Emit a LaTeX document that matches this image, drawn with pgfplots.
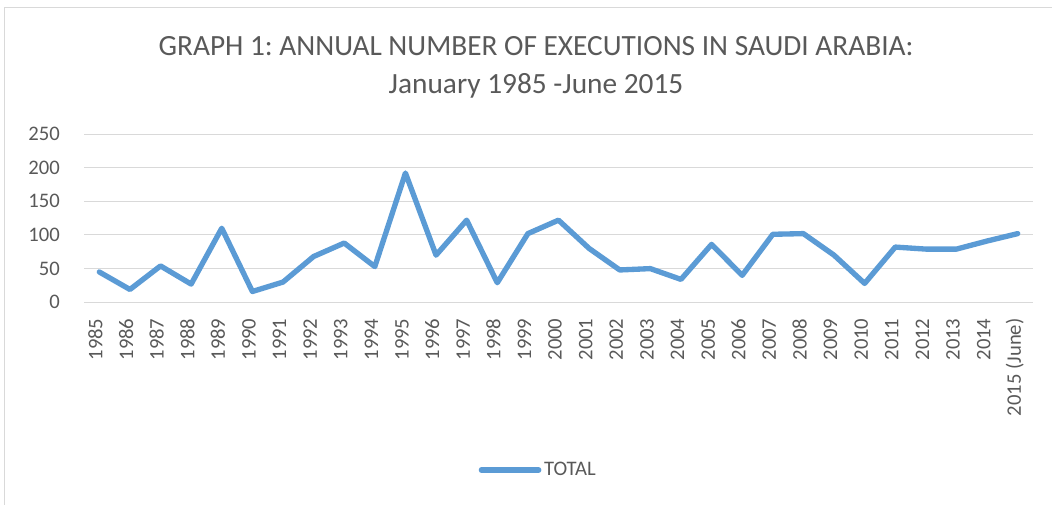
\documentclass[border=0pt]{standalone}
\usepackage{pgfplots}
\pgfplotsset{compat=1.18}
\usepackage{fontspec}
\setmainfont{Carlito}
\frenchspacing
\definecolor{serieblue}{HTML}{5B9BD5}
\definecolor{txt}{HTML}{595959}
\definecolor{gridc}{HTML}{D9D9D9}
\begin{document}
\begin{tikzpicture}[x=1pt,y=1pt]
\path[use as bounding box] (0,0) rectangle (789,378);
\begin{scope}
\clip (0,0) rectangle (789,378);
\draw[gridc, line width=0.75pt] (3,-5) rectangle (800,372);
\end{scope}
\begin{axis}[
  at={(63pt,151.3pt)}, anchor=south west,
  scale only axis, width=711.75pt, height=126.2pt,
  xmin=-0.5, xmax=30.5, ymin=0, ymax=250,
  ytick={0,50,100,150,200,250},
  xtick={0,...,30},
  xticklabels={1985,1986,1987,1988,1989,1990,1991,1992,1993,1994,1995,1996,1997,1998,1999,2000,2001,2002,2003,2004,2005,2006,2007,2008,2009,2010,2011,2012,2013,2014,2015 (June)},
  axis line style={draw=none},
  major tick length=0pt,
  ymajorgrids, grid style={gridc, line width=0.75pt},
  /pgf/number format/assume math mode=true,
  ticklabel style={font=\fontsize{15.5}{18}\selectfont, text=txt, inner sep=0pt},
  yticklabel style={anchor=east},
  yticklabel shift=18pt,
  xticklabel style={rotate=90, anchor=mid east},
  xticklabel shift=12pt,
  legend style={at={(0.479,-0.997)}, anchor=center, draw=none, fill=none,
    font=\fontsize{15.5}{18}\selectfont, text=txt, inner sep=0pt},
  legend image code/.code={\draw[#1, line width=4pt] (0,0) -- (43pt,0);},
]
\addplot[serieblue, line width=4pt, line join=round, line cap=round] coordinates {
(0,45) (1,19) (2,54) (3,27) (4,110) (5,16) (6,30) (7,68) (8,88) (9,53)
(10,192) (11,70) (12,122) (13,29) (14,102) (15,122) (16,80) (17,48) (18,50) (19,34)
(20,86) (21,40) (22,101) (23,102) (24,70) (25,28) (26,82) (27,79) (28,79) (29,91) (30,102)
};
\addlegendentry{TOTAL}
\end{axis}
\node[text=txt, align=center, font=\fontsize{22}{28.5}\selectfont] at (402,327.5)
  {GRAPH 1: ANNUAL NUMBER OF EXECUTIONS IN SAUDI ARABIA:\\January 1985 -June 2015};
\end{tikzpicture}
\end{document}
